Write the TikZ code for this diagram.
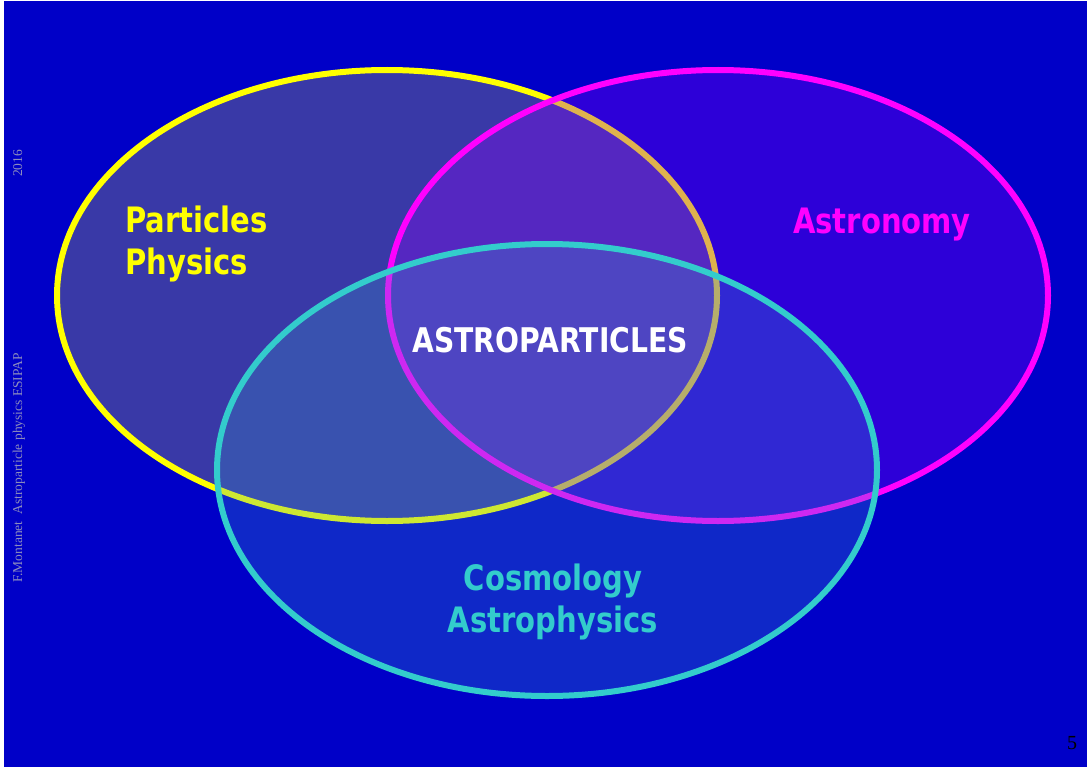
\documentclass[tikz,border=0pt]{standalone}
\usepackage{fontspec}
\setmainfont{Liberation Serif}
\setsansfont{DejaVu Sans}[FakeStretch=0.83]

\definecolor{bground}{RGB}{0,0,200}
\definecolor{partline}{RGB}{255,255,0}
\definecolor{astroline}{RGB}{255,0,255}
\definecolor{cosmoline}{RGB}{51,204,204}
\definecolor{partfill}{RGB}{128,128,128}
\definecolor{astrofill}{RGB}{150,0,255}
\definecolor{cosmofill}{RGB}{60,160,200}
\definecolor{sidegrey}{RGB}{140,140,190}

\begin{document}
\begin{tikzpicture}[x=1pt,y=-1pt,
    venn/.style={line width=6pt},
    field/.style={font=\sffamily\bfseries\fontsize{35}{42}\selectfont, inner sep=0pt},
    margin/.style={font=\rmfamily\fontsize{13.5}{15}\selectfont, text=sidegrey, inner sep=0pt, rotate=90}
    ]
        \useasboundingbox (0,0) rectangle (1089,773);

        % Hintergrund
        \fill[white]   (0,0) rectangle (1089,773);
        \fill[bground] (4,1) rectangle (1087,767);

        % Ellipsen
        \draw[venn, draw=partline,  fill=partfill,  fill opacity=.45] (387,295.5) ellipse (330 and 225.5);
        \draw[venn, draw=astroline, fill=astrofill, fill opacity=.30] (718,295.5) ellipse (330 and 225.5);
        \draw[venn, draw=cosmoline, fill=cosmofill, fill opacity=.25] (547,470)   ellipse (330 and 226);

        % Beschriftung
        \node[field, text=partline, align=left, anchor=base west] (particles) at (125,274) {Particles\\Physics};
        \node[field, text=astroline, anchor=base] (astronomy) at (882,233) {Astronomy};
        \node[field, text=white, font=\sffamily\bfseries\fontsize{34}{36}\selectfont, anchor=base] (astroparticles) at (550,352) {ASTROPARTICLES};
        \node[field, text=cosmoline, align=center, anchor=base] (cosmology) at (553,632) {Cosmology\\Astrophysics};

        % Rand
        \node[margin, anchor=base west] (author) at (22,583) {F.Montanet\ \ Astroparticle physics ESIPAP};
        \node[margin, anchor=base west] (year)   at (22,177) {2016};
        \node[font=\rmfamily\fontsize{20}{22}\selectfont, inner sep=0pt, anchor=base] (page) at (1072,749) {5};
    \end{tikzpicture}
\end{document}
